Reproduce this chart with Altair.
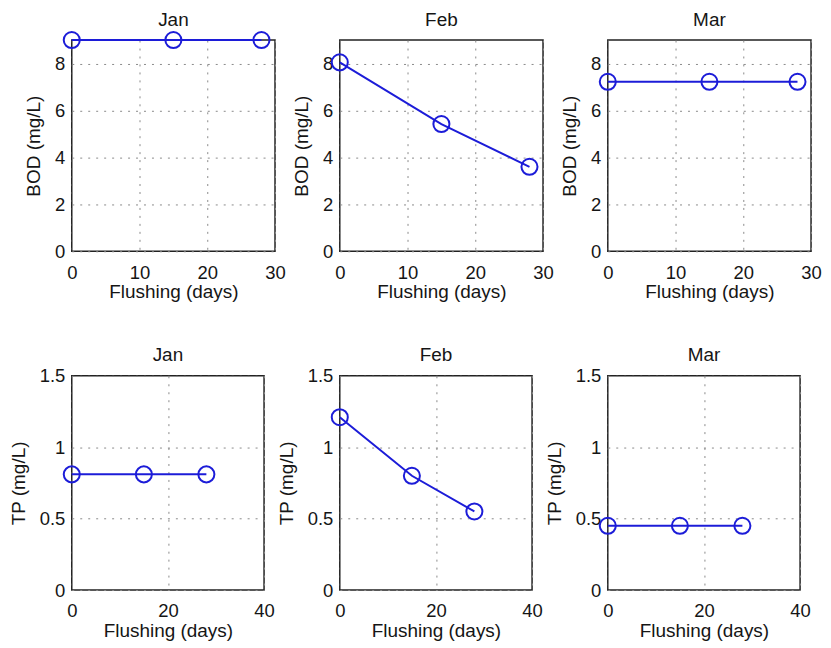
import altair as alt
import pandas as pd

months = ["Jan", "Feb", "Mar"]
flushing_days = [0, 15, 28]
bod_jan = [9.0, 9.0, 9.0]
bod_feb = [8.05, 5.42, 3.6]
bod_mar = [7.22, 7.22, 7.22]
tp_jan = [0.81, 0.81, 0.81]
tp_feb = [1.21, 0.80, 0.55]
tp_mar = [0.45, 0.45, 0.45]

bod_x_ticks = [0, 10, 20, 30]
bod_y_ticks = [0, 2, 4, 6, 8]
tp_x_ticks = [0, 20, 40]
tp_y_ticks = [0, 0.5, 1, 1.5]

BLUE = "#1c1cd8"
FONT = "Liberation Sans"
TXT = "#151515"


def panel(month, values, ylabel, xdom, xticks, ydom, yticks, w, h):
    df = pd.DataFrame({"days": flushing_days, "value": values})
    x = alt.X("days:Q", scale=alt.Scale(domain=xdom, nice=False, zero=False),
              axis=alt.Axis(values=xticks, title="Flushing (days)", format="~f"))
    y = alt.Y("value:Q", scale=alt.Scale(domain=ydom, nice=False, zero=False),
              axis=alt.Axis(values=yticks, title=ylabel, format="~f"))
    base = alt.Chart(df).encode(x=x, y=y)
    line = base.mark_line(color=BLUE, strokeWidth=2)
    pts = base.mark_point(shape="circle", size=260, filled=False, color=BLUE,
                          strokeWidth=2, opacity=1)
    ttl = alt.Chart(pd.DataFrame({"t": [month]})).mark_text(
        font=FONT, fontSize=19, baseline="alphabetic", align="center", color=TXT
    ).encode(text="t:N", x=alt.value(w / 2), y=alt.value(-14.5))
    return alt.layer(line, pts, ttl).properties(width=w, height=h)


top = [bod_jan, bod_feb, bod_mar]
bottom = [tp_jan, tp_feb, tp_mar]
panels = []
for m, v in zip(months, top):
    panels.append(panel(m, v, "BOD (mg/L)", [0, 30], bod_x_ticks, [0, 9], bod_y_ticks, 204, 212))
for m, v in zip(months, bottom):
    panels.append(panel(m, v, "TP (mg/L)", [0, 40], tp_x_ticks, [0, 1.5], tp_y_ticks, 193, 215))

chart = alt.concat(
    *panels, columns=3, spacing={"row": 125, "column": 65}, bounds="flush"
).properties(
    padding={"left": 0, "top": 0, "right": 0, "bottom": 0}
).configure_view(
    stroke="#222222", strokeWidth=1.5
).configure_axis(
    labelFont=FONT, labelFontSize=18.5, labelColor=TXT,
    titleFont=FONT, titleFontSize=19, titleFontWeight="normal", titleColor=TXT,
    grid=True, gridDash=[2, 6], gridColor="#8a8a8a", gridWidth=1,
    domain=False, ticks=False, tickSize=0,
    labelFlush=False, labelOverlap=False,
).configure_axisX(
    labelPadding=12, titlePadding=1
).configure_axisY(
    labelPadding=7, titlePadding=11
)

chart.save("out.html", embed_options={"renderer": "svg", "actions": False})
